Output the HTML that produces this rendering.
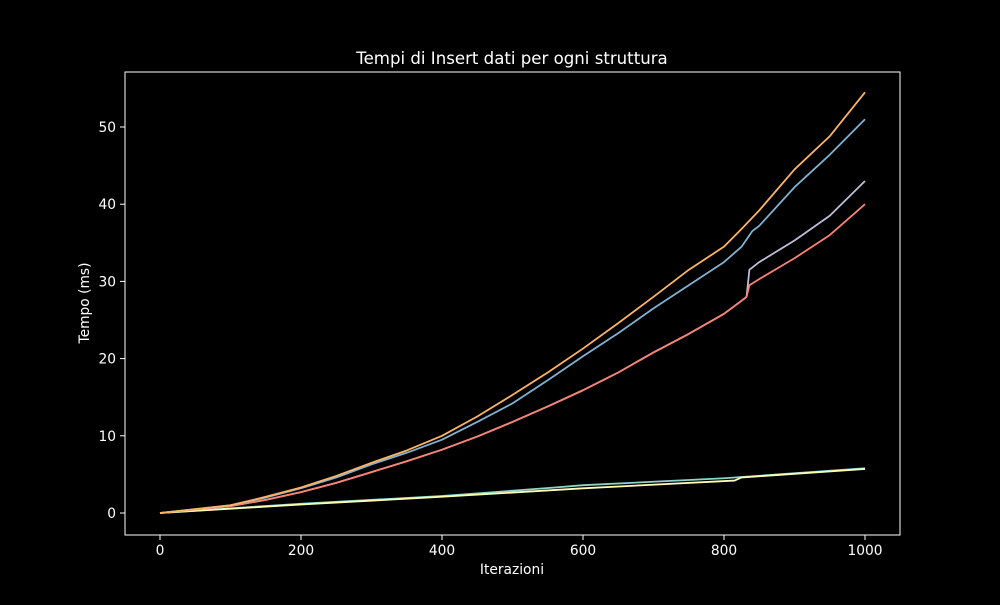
<!DOCTYPE html>
<html><head><meta charset="utf-8"><style>
html,body{margin:0;background:#000;}
svg text{font-family:"DejaVu Sans","Liberation Sans",sans-serif;fill:#fff;}
</style></head><body>
<svg id="chart" width="1000" height="600" xmlns="http://www.w3.org/2000/svg">
<rect width="1000" height="600" fill="#000"/>
<text x="512" y="64" text-anchor="middle" font-size="16.6">Tempi di Insert dati per ogni struttura</text>
<rect x="125" y="72" width="775" height="463" fill="none" stroke="#fff" stroke-width="1"/>
<g id="xticks"></g>
<g id="yticks"></g>
<text x="512" y="574" text-anchor="middle" font-size="13.8">Iterazioni</text>
<text transform="translate(89,303) rotate(-90)" text-anchor="middle" font-size="13.8">Tempo (ms)</text>
<g id="lines"></g>
</svg>
<script>
const xTicks=[0,200,400,600,800,1000];
const yTicks=[0,10,20,30,40,50];
const seriesNames=["teal","yellow","lavender","red","blue","orange"];
const seriesColors=["#8dd3c7","#feffb3","#bfbbd9","#fa8174","#81b1d2","#fdb462"];
const tealX=[0,200,400,560,600,800,1000];
const tealY=[0,1.2,2.2,3.3,3.6,4.5,5.8];
const yellowX=[0,200,400,600,815,825,1000];
const yellowY=[0,1.1,2.1,3.2,4.2,4.6,5.7];
const lavenderX=[0,100,150,200,250,300,350,400,450,500,550,600,650,700,750,800,825,832,836,850,900,950,1000];
const lavenderY=[0,0.9,1.7,2.7,3.9,5.3,6.7,8.2,9.9,11.8,13.8,15.9,18.2,20.8,23.2,25.8,27.5,28,31.5,32.5,35.3,38.5,43];
const redX=[0,100,150,200,250,300,350,400,450,500,550,600,650,700,750,800,825,832,836,850,900,950,1000];
const redY=[0,0.9,1.7,2.7,3.9,5.3,6.7,8.2,9.9,11.8,13.8,15.9,18.2,20.8,23.2,25.8,27.5,28,29.5,30.3,33,36,40];
const blueX=[0,100,150,200,250,300,350,400,450,500,550,600,650,700,750,800,825,840,850,900,950,1000];
const blueY=[0,1,2,3.2,4.6,6.3,7.8,9.5,11.8,14.2,17.2,20.3,23.3,26.5,29.5,32.5,34.5,36.5,37.2,42.2,46.4,51];
const orangeX=[0,100,150,200,250,300,350,400,450,500,550,600,650,700,750,800,825,850,900,950,1000];
const orangeY=[0,1,2.1,3.3,4.8,6.5,8.1,10,12.5,15.3,18.2,21.3,24.6,28,31.5,34.5,36.8,39.2,44.5,48.8,54.5];
const allX=[tealX,yellowX,lavenderX,redX,blueX,orangeX];
const allY=[tealY,yellowY,lavenderY,redY,blueY,orangeY];
const xs=v=>160+v*0.705;
const ys=v=>513-v*7.72;
const NS="http://www.w3.org/2000/svg";
const xg=document.getElementById('xticks'), yg=document.getElementById('yticks');
xTicks.forEach(t=>{
  const l=document.createElementNS(NS,'line');
  l.setAttribute('x1',xs(t));l.setAttribute('x2',xs(t));l.setAttribute('y1',535);l.setAttribute('y2',540);l.setAttribute('stroke','#fff');
  
  
  xg.appendChild(l);
  const tx=document.createElementNS(NS,'text');
  tx.setAttribute('x',xs(t));tx.setAttribute('y',555);tx.setAttribute('text-anchor','middle');tx.setAttribute('font-size','13.8');tx.textContent=t;
  
  
  xg.appendChild(tx);
});
yTicks.forEach(t=>{
  const l=document.createElementNS(NS,'line');
  l.setAttribute('x1',120);l.setAttribute('x2',125);l.setAttribute('y1',ys(t));l.setAttribute('y2',ys(t));l.setAttribute('stroke','#fff');
  
  
  yg.appendChild(l);
  const tx=document.createElementNS(NS,'text');
  tx.setAttribute('x',116);tx.setAttribute('y',ys(t)+5);tx.setAttribute('text-anchor','end');tx.setAttribute('font-size','13.8');tx.textContent=t;
  
  
  yg.appendChild(tx);
});
const lg=document.getElementById('lines');
allX.forEach((X,i)=>{
  const p=document.createElementNS(NS,'polyline');
  p.setAttribute('points',X.map((x,j)=>xs(x)+','+ys(allY[i][j])).join(' '));
  p.setAttribute('fill','none');p.setAttribute('stroke',seriesColors[i]);p.setAttribute('stroke-width','1.8');p.setAttribute('stroke-linejoin','round');
  
  
  lg.appendChild(p);
});
</script>
</body></html>
